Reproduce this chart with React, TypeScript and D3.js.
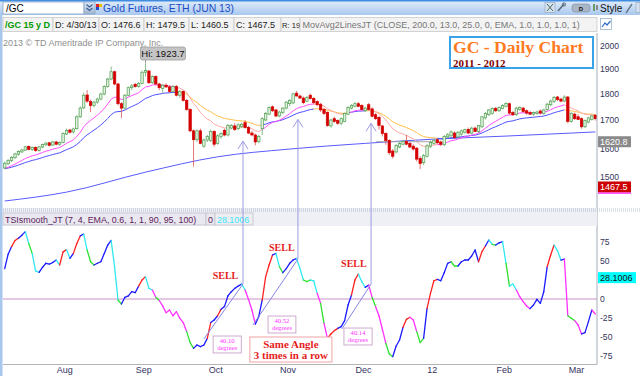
import React from 'react';
import * as d3 from 'd3';

// ---------- DATA ----------
const opens = [1530,1544,1555,1565,1577,1585,1591,1604,1594,1601,1590,1602,1610,1617,1609,1620,1612,1618,1648,1663,1656,1668,1712,1746,1796,1770,1755,1768,1780,1800,1830,1860,1890,1840,1762,1745,1795,1825,1838,1830,1842,1888,1893,1845,1870,1840,1822,1835,1828,1810,1830,1795,1810,1775,1740,1660,1628,1660,1605,1627,1625,1658,1615,1640,1662,1645,1670,1678,1668,1675,1690,1672,1652,1645,1622,1668,1700,1722,1750,1738,1715,1728,1745,1762,1765,1803,1792,1784,1772,1795,1782,1770,1760,1740,1728,1678,1705,1698,1688,1695,1722,1745,1752,1762,1755,1735,1758,1742,1720,1710,1678,1650,1625,1588,1585,1602,1612,1622,1615,1605,1598,1562,1548,1570,1605,1615,1628,1620,1610,1638,1642,1652,1638,1648,1655,1665,1652,1670,1658,1675,1708,1720,1725,1744,1735,1744,1752,1762,1728,1720,1740,1745,1735,1728,1722,1725,1734,1725,1740,1758,1770,1788,1780,1772,1788,1695,1722,1712,1705,1675,1692,1702,1718];
const highs = [1552,1560,1570,1582,1590,1596,1606,1608,1604,1604,1606,1614,1620,1620,1624,1624,1622,1655,1668,1668,1672,1718,1752,1805,1815,1778,1772,1785,1805,1835,1865,1912,1895,1845,1768,1800,1830,1840,1845,1848,1895,1923.7,1898,1875,1875,1845,1840,1842,1835,1835,1836,1815,1815,1780,1745,1665,1665,1668,1632,1645,1665,1662,1648,1655,1668,1685,1685,1688,1688,1690,1700,1678,1660,1650,1645,1710,1730,1752,1755,1742,1735,1748,1772,1780,1805,1812,1798,1790,1792,1802,1788,1775,1765,1745,1732,1705,1712,1702,1710,1728,1752,1760,1768,1768,1760,1750,1765,1748,1725,1715,1682,1655,1630,1595,1612,1620,1628,1645,1620,1612,1602,1570,1578,1612,1625,1630,1632,1625,1645,1652,1662,1658,1660,1665,1668,1672,1675,1676,1682,1715,1730,1742,1748,1750,1752,1760,1768,1766,1734,1750,1752,1750,1740,1735,1732,1735,1740,1742,1765,1778,1792,1792,1785,1795,1792,1730,1728,1722,1710,1702,1712,1720,1722];
const lows = [1526,1540,1550,1560,1572,1580,1588,1590,1588,1585,1586,1598,1605,1604,1606,1608,1606,1615,1645,1650,1650,1665,1708,1742,1765,1730,1748,1762,1775,1795,1825,1855,1835,1755,1707,1740,1790,1815,1825,1825,1838,1870,1840,1840,1835,1815,1805,1825,1805,1805,1790,1785,1770,1735,1655,1535,1620,1612,1600,1620,1620,1603,1610,1632,1640,1640,1665,1660,1662,1670,1668,1648,1640,1608,1615,1645,1695,1718,1730,1710,1710,1722,1740,1752,1760,1790,1780,1760,1768,1778,1760,1752,1730,1718,1675,1672,1690,1682,1680,1692,1718,1740,1748,1748,1735,1730,1735,1710,1700,1665,1640,1610,1575,1562,1580,1598,1608,1608,1598,1590,1552,1526,1540,1565,1598,1610,1612,1605,1606,1632,1638,1630,1632,1642,1650,1648,1648,1655,1652,1670,1702,1715,1720,1730,1730,1740,1748,1720,1715,1715,1735,1728,1720,1718,1716,1720,1720,1720,1735,1752,1765,1772,1768,1768,1688,1690,1700,1700,1668,1670,1688,1698,1698];
const closes = [1546,1556,1566,1578,1586,1592,1603,1594,1600,1590,1603,1611,1616,1608,1620,1612,1618,1650,1662,1655,1667,1712,1745,1795,1772,1755,1768,1780,1800,1830,1860,1890,1840,1762,1745,1795,1825,1832,1830,1842,1888,1895,1845,1870,1840,1825,1835,1828,1810,1830,1795,1810,1775,1740,1660,1628,1660,1615,1627,1640,1658,1612,1642,1650,1645,1680,1680,1665,1682,1684,1672,1652,1645,1620,1640,1705,1725,1748,1735,1715,1730,1745,1768,1775,1800,1792,1784,1766,1786,1782,1766,1758,1738,1725,1680,1700,1695,1688,1705,1725,1748,1755,1762,1752,1740,1745,1740,1714,1705,1680,1650,1625,1582,1570,1608,1615,1622,1612,1602,1595,1560,1545,1572,1606,1618,1625,1617,1612,1640,1646,1656,1636,1655,1660,1664,1652,1670,1658,1680,1712,1725,1738,1744,1735,1748,1755,1763,1726,1720,1745,1748,1732,1726,1722,1728,1730,1726,1738,1760,1772,1786,1778,1772,1788,1695,1725,1705,1702,1675,1698,1708,1715,1705];

const tsiValues = [40,59,69,77,80,84,88.6,73,60,37,35,41.7,47,46,48,51.3,44.7,62,65,53.5,60,73,83,85.5,64.5,49,44.7,47,49,60,71,77,42.5,-1.3,-6.6,2.2,4,9.6,8.3,17,25,29.4,14,11.8,2.2,-2,-9,-18,-14.5,-22,-16.7,-25.4,-31,-43,-57.4,-65,-60.5,-62.7,-60.5,-51.8,-31,-27.6,-22,-13.6,-10,4,9.6,14,17,19.7,11.8,-0.4,-14.5,-33,-23,-1.3,29.4,44.7,57.9,60,42.5,34.6,40,47,51.3,53.5,40,25,22.8,25,24,7.5,-5.7,-32,-51.8,-46,-41.6,-38.6,-36.4,-28.5,-7.9,5.3,25,33,22.8,15.3,18.4,2.2,-10,-22,-40,-58.3,-72.4,-75.9,-61.8,-54,-37.3,-26.8,-24.1,-27.6,-43,-57.4,-51.8,-12.3,7.5,24,25.9,24,34.6,46.9,49,43.4,43.4,49,51.3,51.3,56.6,64.5,49,62.3,69.7,77.6,72,71,74,75.4,47,17,19.7,11.8,3,-3.5,-9.2,-12.7,-7.9,-0.4,-5.7,9.6,42.5,57.9,71,63.6,51.3,52.6,-22,-25.4,-28.5,-34.2,-46,-44.3,-29.8,-14.5,-19.7];
const tsiColorCodes = "BBBRRBBCGC" + "CBBBBBCRRC" + "BRRBCGGBBB" + "BBCCGBBBBB" + "RRCCMGMMMM" + "MMMMGGBBBB" + "RBBRBBBBBB" + "CMMMBBRRRB" + "CGBBBBCCGG" + "CCMGMRRRBB" + "BBRRCCBMGM" + "MMGGBBBRRM" + "MGGBRRRBBB" + "BGGBBBBBBR" + "RBCGBBCGCC" + "MMMMBBBBBR" + "RCCBMGGMMB" + "BBM";
const tsiPalette: Record<string, string> = { B: '#1a1aff', C: '#30e8f0', G: '#30e030', R: '#ff2020', M: '#ff30ff' };

const monthLabels = ['Aug', 'Sep', 'Oct', 'Nov', 'Dec', '12', 'Feb', 'Mar'];
const monthIdx = [18, 41, 62, 83, 105, 125, 146, 167];
const priceTicks = [1500, 1600, 1700, 1800, 1900, 2000];
const tsiTicks = [-75, -50, -25, 0, 50, 75];

const sma200Idx = [0, 18, 41, 62, 83, 105, 125, 146, 172];
const sma200Vals = [1423, 1451, 1516, 1568, 1595, 1615, 1630, 1641, 1656];
const emaSeed = 1526;
const bearishRanges = [[51, 75], [91, 100], [106, 126], [164, 172]];

// SELL annotations
const peakIdx = [69.4, 85.4, 106.7];
const peakVal = [19.7, 52.6, 19.7];
const startIdx = [58.0, 72.3, 98.2];
const startVal = [-52.6, -34.2, -39.5];
const chevronPrice = [1623, 1702, 1688];
const sellIdx = [64.3, 80.7, 101.7];
const sellVal = [26.3, 63.2, 42.1];
const angleText = ['40.10', '40.52', '40.14'];
const angleBoxIdx = [[60.7, 68.9], [76.7, 84.8], [98.8, 107]];
const angleBoxVal = [[-48.7, -71], [-22.4, -44.7], [-38.2, -60.5]];
const noteBoxIdx = [71.4, 95.3];
const noteBoxVal = [-50, -82.9];
const levelLineIdx = [108.7, 125.3];
const levelPrice = 1620.8;
const lastPrice = 1467.5;
const lastTsi = 28.1006;
const hiIdx = 41;
const hiPrice = 1923.7;

const SANS = "'Liberation Sans', Arial, sans-serif";
const SERIF = "'Liberation Serif', 'Times New Roman', serif";

export default function App() {
  const N = closes.length;
  const x = d3.scaleLinear().domain([0, N]).range([3, 597]);
  const yP = d3.scaleLog().domain([1500, 2000]).range([177, 46]);
  const yT = d3.scaleLinear().domain([-75, 75]).range([356, 242]);
  const cx = (i: number) => x(i + 0.5);

  const ema = (n: number) => {
    const a = 2 / (n + 1);
    const out: number[] = [];
    let prev = emaSeed;
    closes.forEach((c) => { prev = prev + a * (c - prev); out.push(prev); });
    return out;
  };
  const ema13 = ema(13);
  const ema25 = ema(25);
  const bearish = (i: number) => bearishRanges.some(([a, b]) => i >= a && i <= b);
  const seg = d3.line<[number, number]>().x((d) => d[0]).y((d) => d[1]);

  const smaLine = d3.line<number>().x((_, k) => cx(sma200Idx[k])).y((v) => yP(v)).curve(d3.curveMonotoneX);

  const segs: JSX.Element[] = [];
  for (let i = 1; i < N; i++) {
    const b = bearish(i);
    segs.push(<path key={'e25' + i} d={seg([[cx(i - 1), yP(ema25[i - 1])], [cx(i), yP(ema25[i])]]) || ''} stroke={b ? '#ffc04a' : '#5050ff'} strokeWidth={1} fill="none" />);
    segs.push(<path key={'e13' + i} d={seg([[cx(i - 1), yP(ema13[i - 1])], [cx(i), yP(ema13[i])]]) || ''} stroke={b ? '#ffa8a8' : '#ff50ff'} strokeWidth={1} fill="none" />);
  }

  const candles = closes.map((c, i) => {
    const o = opens[i];
    const up = c >= o;
    const col = up ? '#4f9f4f' : '#d40000';
    const top = yP(Math.max(o, c));
    const bot = yP(Math.min(o, c));
    const X = cx(i);
    return (
      <g key={'c' + i}>
        <line x1={X} x2={X} y1={yP(highs[i])} y2={yP(lows[i])} stroke={up ? '#6aaa6a' : '#e05050'} strokeWidth={0.8} />
        <rect x={X - 1.2} y={top} width={2.4} height={Math.max(1, bot - top)} fill={up ? '#e2f1e2' : '#d40000'} stroke={col} strokeWidth={0.7} />
      </g>
    );
  });

  const tsiSegs: JSX.Element[] = [];
  for (let i = 1; i < N; i++) {
    tsiSegs.push(<path key={'t' + i} d={seg([[cx(i - 1), yT(tsiValues[i - 1])], [cx(i), yT(tsiValues[i])]]) || ''} stroke={tsiPalette[tsiColorCodes[i]]} strokeWidth={1.3} fill="none" strokeLinecap="round" />);
  }

  const row2 = [
    { x0: 3, x1: 53, t: '/GC 15 y D', c: '#009a00', b: true, fs: 9, tx: 2 },
    { x0: 53, x1: 99, t: 'D: 4/30/13', c: '#222', b: false, fs: 9, tx: 2 },
    { x0: 99, x1: 144, t: 'O: 1476.6', c: '#222', b: false, fs: 9, tx: 2 },
    { x0: 144, x1: 189, t: 'H: 1479.5', c: '#222', b: false, fs: 9, tx: 2 },
    { x0: 189, x1: 234, t: 'L: 1460.5', c: '#222', b: false, fs: 9, tx: 2 },
    { x0: 234, x1: 281, t: 'C: 1467.5', c: '#222', b: false, fs: 9, tx: 2 },
    { x0: 281, x1: 300, t: 'R: 19', c: '#222', b: false, fs: 7.6, tx: 1 },
    { x0: 300, x1: 597, t: 'MovAvg2LinesJT (CLOSE, 200.0, 13.0, 25.0, 0, EMA, 1.0, 1.0, 1.0, 1)', c: '#777', b: false, fs: 9, tx: 2.5 },
  ];

  const hiX = cx(hiIdx);

  return (
    <svg width={640} height={376} style={{ position: 'absolute', left: 0, top: 0 }} fontFamily={SANS}>
      <defs>
        <linearGradient id="tb" x1="0" y1="0" x2="0" y2="1">
          <stop offset="0" stopColor="#e2eefb" />
          <stop offset="1" stopColor="#a9c8ee" />
        </linearGradient>
        <linearGradient id="btn" x1="0" y1="0" x2="0" y2="1">
          <stop offset="0" stopColor="#dfe8f4" />
          <stop offset="1" stopColor="#9fb4d0" />
        </linearGradient>
        <clipPath id="pclip"><rect x={3} y={33} width={594} height={175} /></clipPath>
        <clipPath id="tclip"><rect x={3} y={226} width={594} height={138} /></clipPath>
      </defs>
      <rect x={0} y={0} width={640} height={376} fill="#fff" />
      {/* left frame */}
      <rect x={0} y={0} width={2.5} height={376} fill="#a9c6ec" />
      {/* toolbar */}
      <rect x={0} y={0} width={640} height={15} fill="url(#tb)" />
      <rect x={0} y={0} width={640} height={1.5} fill="#3f8ce0" />
      <rect x={3} y={2} width={81} height={12} fill="#fff" stroke="#8ba5c8" strokeWidth={0.8} />
      <text x={6} y={12} fontSize={10} fill="#000">/GC</text>
      <rect x={84} y={2} width={11} height={12} fill="url(#btn)" stroke="#8ba5c8" strokeWidth={0.8} />
      <path d="M86.5,4.5 L89.5,7 L92.5,4.5 M86.5,8 L89.5,10.5 L92.5,8" stroke="#3e5f95" strokeWidth={1.2} fill="none" />
      <rect x={96} y={4} width={3} height={3} fill="#e02020" />
      <rect x={99} y={4} width={3} height={3} fill="#f0c000" />
      <rect x={96} y={7} width={3} height={3} fill="#2050d0" />
      <text x={103} y={12} fontSize={10.4} fill="#1a4cc4">Gold Futures, ETH (JUN 13)</text>
      <rect x={545} y={2.5} width={10} height={10} fill="#d6e2f0" stroke="#8fa2bb" strokeWidth={0.6} />
      <path d="M547,4 L553,11 M553,4 L547,11" stroke="#4a6a5a" strokeWidth={1} />
      <path d="M558,11 L564,4" stroke="#5b6b7b" strokeWidth={1.6} />
      <circle cx={564} cy={4.5} r={1.6} fill="none" stroke="#5b6b7b" strokeWidth={1} />
      <rect x={572} y={4} width={18} height={8} rx={3} fill="#a9b6c8" stroke="#7d8a9c" strokeWidth={0.6} />
      <text x={581} y={10.5} fontSize={6} textAnchor="middle" fill="#111" fontWeight="bold">D</text>
      <rect x={593} y={4} width={2} height={7} fill="#6a9a6a" />
      <rect x={596} y={5} width={2} height={5} fill="#8a8a8a" />
      <text x={600} y={12} fontSize={10} fill="#111">Style</text>
      <line x1={626} y1={13} x2={632} y2={4} stroke="#6a7a8a" strokeWidth={1.4} />
      <rect x={636} y={2.5} width={4} height={10} fill="#d6e2f0" stroke="#8fa2bb" strokeWidth={0.6} />

      {/* row 2 */}
      {row2.map((r, k) => (
        <g key={'r' + k}>
          <rect x={r.x0} y={17.5} width={r.x1 - r.x0} height={14} fill="#f3f3f3" stroke="#c9c9c9" strokeWidth={0.8} />
          <text x={r.x0 + r.tx} y={28} fontSize={r.fs} fill={r.c} fontWeight={r.b ? 'bold' : 'normal'}>{r.t}</text>
        </g>
      ))}
      <rect x={600.5} y={18.5} width={11} height={11} fill="#fff" stroke="#9ab0c8" strokeWidth={0.8} />
      <path d="M602,27 L605,23 L607,25 L610.5,21" stroke="#2f6fd0" strokeWidth={1.2} fill="none" />

      {/* price panel */}
      <text x={3} y={45.5} fontSize={9} fill="#8e8e8e">2013 © TD Ameritrade IP Company, Inc.</text>
      <g clipPath="url(#pclip)">
        <path d={smaLine(sma200Vals) || ''} stroke="#5a5aff" strokeWidth={1} fill="none" />
        {segs}
        <line x1={x(levelLineIdx[0])} x2={x(levelLineIdx[1])} y1={yP(levelPrice)} y2={yP(levelPrice)} stroke="#a8a8a8" strokeWidth={1} />
        {candles}
      </g>
      {/* Hi label */}
      <line x1={hiX} x2={hiX} y1={60} y2={yP(hiPrice)} stroke="#888" strokeWidth={0.8} />
      <rect x={hiX - 5} y={47} width={45} height={13} rx={2} fill="#c4c4c4" stroke="#9c9c9c" strokeWidth={0.8} />
      <text x={hiX + 17.5} y={57} fontSize={9.5} textAnchor="middle" fill="#111">Hi: {hiPrice}</text>

      {/* title box */}
      <rect x={450} y={37} width={143} height={31} fill="#fff" stroke="#3aa2e8" strokeWidth={2} />
      <text x={453} y={53} fontFamily={SERIF} fontWeight="bold" fontSize={17.6} fill="#ff7a22">GC - Daily Chart</text>
      <text x={453} y={66.5} fontFamily={SERIF} fontWeight="bold" fontSize={11} fill="#800000">2011 - 2012</text>

      {/* right axis */}
      <line x1={597} x2={597} y1={33} y2={364.5} stroke="#a4aebc" strokeWidth={1} />
      {priceTicks.map((t) => (
        <text key={'pt' + t} x={600} y={yP(t) + (t === 1600 ? 4.5 : 3)} fontSize={8.6} fill="#35355a">{t}</text>
      ))}
      <rect x={598} y={yP(levelPrice) - 5.5} width={33} height={11} fill="#8a8a8a" />
      <text x={600} y={yP(levelPrice) + 3.2} fontSize={9} fill="#fff">{levelPrice}</text>
      <rect x={598} y={yP(lastPrice) - 5.5} width={33} height={11} fill="#cc0000" />
      <text x={600} y={yP(lastPrice) + 3.2} fontSize={9} fill="#fff">{lastPrice}</text>
      <line x1={598} x2={631} y1={yP(lastPrice) + 6.2} y2={yP(lastPrice) + 6.2} stroke="#ff20ff" strokeWidth={1.4} />

      {/* separator */}
      <rect x={3} y={208} width={594} height={18} fill="#eef0f5" />
      <line x1={3} x2={640} y1={209} y2={209} stroke="#a6b2c6" strokeWidth={0.8} strokeDasharray="1,1" />
      <line x1={3} x2={640} y1={211} y2={211} stroke="#a6b2c6" strokeWidth={0.8} strokeDasharray="1,1" />
      <rect x={3} y={213} width={203} height={12} fill="#e9e7ef" stroke="#c2c2cc" strokeWidth={0.8} />
      <text x={5} y={222.5} fontSize={8.9} fill="#5c1c5c">TSIsmooth_JT (7, 4, EMA, 0.6, 1, 1, 90, 95, 100)</text>
      <rect x={206} y={213} width={9} height={12} fill="#e9e7ef" stroke="#c2c2cc" strokeWidth={0.8} />
      <text x={208} y={222.5} fontSize={8.9} fill="#5c1c5c">0</text>
      <rect x={215} y={213} width={38} height={12} fill="#eeeef2" stroke="#c2c2cc" strokeWidth={0.8} />
      <text x={217} y={222.5} fontSize={8.9} fill="#3ae6f2">{lastTsi}</text>

      {/* TSI panel */}
      <line x1={3} x2={597} y1={yT(0)} y2={yT(0)} stroke="#c890c8" strokeWidth={1} />
      <g clipPath="url(#tclip)">{tsiSegs}</g>
      <line x1={3} x2={597} y1={364.5} y2={364.5} stroke="#b4b4b4" strokeWidth={1} />
      {tsiTicks.map((t) => (
        <text key={'tt' + t} x={600} y={yT(t) + 3} fontSize={8.6} fill="#35355a">{t}</text>
      ))}
      <rect x={598} y={yT(lastTsi) - 5.5} width={38} height={11} fill="#00ffff" />
      <text x={600} y={yT(lastTsi) + 3.2} fontSize={9} fill="#111">{lastTsi}</text>
      {monthLabels.map((m, k) => (
        <text key={'m' + m} x={x(monthIdx[k])} y={373} fontSize={9} textAnchor="middle" fill="#33335f">{m}</text>
      ))}

      {/* annotations */}
      {peakIdx.map((p, k) => {
        const X = cx(p);
        const ap = yP(chevronPrice[k]);
        const bx0 = cx(angleBoxIdx[k][0]);
        const bx1 = cx(angleBoxIdx[k][1]);
        const by0 = yT(angleBoxVal[k][0]);
        return (
          <g key={'a' + k}>
            <line x1={cx(startIdx[k])} y1={yT(startVal[k])} x2={X} y2={yT(peakVal[k])} stroke="#8585e6" strokeWidth={1} />
            <line x1={X} x2={X} y1={ap} y2={yT(peakVal[k])} stroke="#9c9ce2" strokeWidth={1} />
            <path d={`M${X - 5},${ap + 8} L${X},${ap} L${X + 5},${ap + 8}`} stroke="#9c9ce2" strokeWidth={1} fill="none" />
            <text x={cx(sellIdx[k])} y={yT(sellVal[k])} fontFamily={SERIF} fontWeight="bold" fontSize={10} textAnchor="middle" fill="#e51c1c">SELL</text>
            <rect x={bx0} y={by0} width={bx1 - bx0} height={yT(angleBoxVal[k][1]) - by0} fill="#fff" stroke="#c8a2c8" strokeWidth={0.9} />
            <text x={(bx0 + bx1) / 2} y={by0 + 6.8} fontFamily={SERIF} fontSize={6.6} textAnchor="middle" fill="#ff33ff">{angleText[k]}</text>
            <text x={(bx0 + bx1) / 2} y={by0 + 13.6} fontFamily={SERIF} fontSize={6.6} textAnchor="middle" fill="#ff33ff">degrees</text>
          </g>
        );
      })}
      <rect x={cx(noteBoxIdx[0])} y={yT(noteBoxVal[0])} width={cx(noteBoxIdx[1]) - cx(noteBoxIdx[0])} height={yT(noteBoxVal[1]) - yT(noteBoxVal[0])} fill="#fff" stroke="#f0a4a4" strokeWidth={1} />
      <text x={(cx(noteBoxIdx[0]) + cx(noteBoxIdx[1])) / 2} y={yT(noteBoxVal[0]) + 11} fontFamily={SERIF} fontWeight="bold" fontSize={11} textAnchor="middle" fill="#e51c1c">Same Angle</text>
      <text x={(cx(noteBoxIdx[0]) + cx(noteBoxIdx[1])) / 2} y={yT(noteBoxVal[0]) + 22} fontFamily={SERIF} fontWeight="bold" fontSize={11} textAnchor="middle" fill="#e51c1c">3 times in a row</text>
    </svg>
  );
}
